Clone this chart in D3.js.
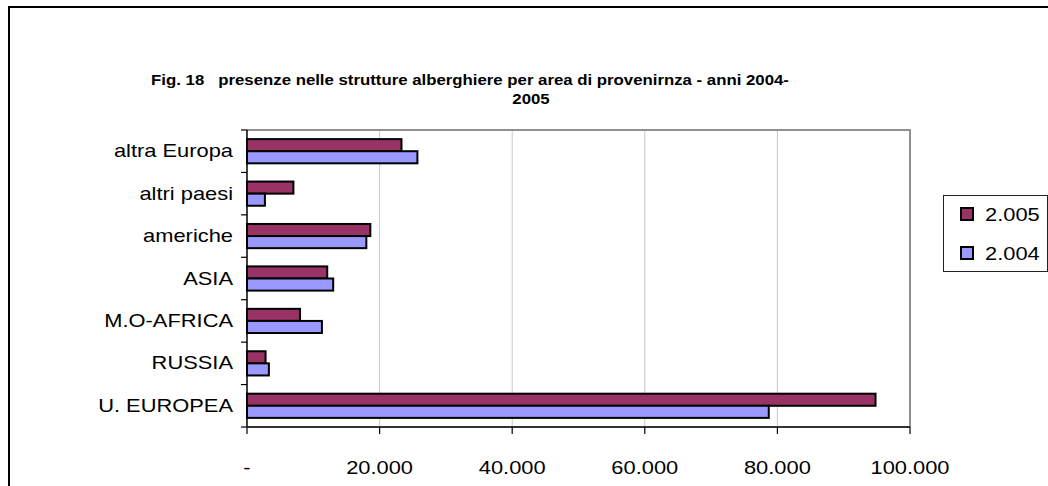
<!DOCTYPE html>
<html>
<head>
<meta charset="utf-8">
<script src="https://cdn.jsdelivr.net/npm/d3@7"></script>
<style>
  body { margin: 0; background: #fff; }
  text { font-family: Arial, "Liberation Sans", sans-serif; fill: #000; white-space: pre; }
</style>
</head>
<body>
<div id="vis-holder"></div>
<script>
// data
const categories = ["altra Europa", "altri paesi", "americhe", "ASIA", "M.O-AFRICA", "RUSSIA", "U. EUROPEA"];
const seriesNames = ["2.005", "2.004"];
const values2005 = [23300, 7000, 18600, 12100, 8000, 2800, 94800];
const values2004 = [25700, 2700, 18000, 13000, 11300, 3300, 78700];
const xTicks = [0, 20000, 40000, 60000, 80000, 100000];
const titleLines = ["Fig. 18   presenze nelle strutture alberghiere per area di provenirnza - anni 2004-", "2005"];

const colors = ["#993366", "#9999FF"];
const SX = 1.25; // text in the picture is stretched horizontally

const width = 1048, height = 486;
const plot = { left: 247, right: 910, top: 130, bottom: 427 };

const svg = d3.select("#vis-holder")
    .append("svg")
    .attr("width", width)
    .attr("height", height);

// outer chart frame (runs off the bottom/right of the picture)
svg.append("rect")
    .attr("x", 9).attr("y", 7)
    .attr("width", 1200).attr("height", 600)
    .attr("fill", "none")
    .attr("stroke", "#000")
    .attr("stroke-width", 2);

function stretchText(parent, x, y, str, anchor, size, weight, sx) {
    return parent.append("g")
        .attr("transform", `translate(${x},${y}) scale(${sx || SX},1)`)
        .append("text")
        .attr("text-anchor", anchor)
        .style("font-size", size + "px")
        .style("font-weight", weight || "normal")
        .text(str);
}

const locale = d3.formatLocale({ decimal: ",", thousands: ".", grouping: [3], currency: ["€", ""] });
const fmt = locale.format(",d");

const x = d3.scaleLinear().domain([0, 100000]).range([plot.left, plot.right]);
const y = d3.scaleBand().domain(categories).range([plot.top, plot.bottom])
    .paddingInner(0.43).paddingOuter(0.215);
const ySub = d3.scaleBand().domain(seriesNames).range([0, y.bandwidth()]);

// grid lines
svg.append("g")
    .selectAll("line")
    .data(xTicks.filter(d => d > 0 && d < 100000))
    .enter().append("line")
    .attr("x1", d => x(d)).attr("x2", d => x(d))
    .attr("y1", plot.top).attr("y2", plot.bottom)
    .attr("stroke", "#c8c8c8")
    .attr("stroke-width", 1);

// plot border top + right
svg.append("path")
    .attr("d", `M${plot.left},${plot.top}H${plot.right}V${plot.bottom}`)
    .attr("fill", "none")
    .attr("stroke", "#909090")
    .attr("stroke-width", 2);

// bars
const data = categories.map((c, i) => ({ cat: c, vals: [values2005[i], values2004[i]] }));
const groups = svg.append("g")
    .selectAll("g")
    .data(data)
    .enter().append("g")
    .attr("transform", d => `translate(0,${y(d.cat)})`);

groups.selectAll("rect")
    .data(d => d.vals.map((v, j) => ({ name: seriesNames[j], v: v, j: j })))
    .enter().append("rect")
    .attr("x", x(0))
    .attr("y", d => ySub(d.name))
    .attr("width", d => x(d.v) - x(0))
    .attr("height", ySub.bandwidth())
    .attr("fill", d => colors[d.j])
    .attr("stroke", "#000")
    .attr("stroke-width", 2);

// y axis
const yAxis = svg.append("g");
yAxis.append("line")
    .attr("x1", plot.left).attr("x2", plot.left)
    .attr("y1", plot.top).attr("y2", plot.bottom)
    .attr("stroke", "#000").attr("stroke-width", 1.5);
const yTickPos = categories.map(c => y(c) - y.step() * y.paddingOuter()).concat([plot.bottom]);
yAxis.selectAll(".tk")
    .data(yTickPos)
    .enter().append("line")
    .attr("x1", plot.left - 6).attr("x2", plot.left)
    .attr("y1", d => d).attr("y2", d => d)
    .attr("stroke", "#000").attr("stroke-width", 1.2);
categories.forEach(c => {
    stretchText(svg, 233, y(c) + y.bandwidth() / 2 + 6, c, "end", 17.5);
});

// x axis
const xAxis = svg.append("g");
xAxis.append("line")
    .attr("x1", plot.left).attr("x2", plot.right)
    .attr("y1", plot.bottom).attr("y2", plot.bottom)
    .attr("stroke", "#333").attr("stroke-width", 2);
xAxis.selectAll(".tk")
    .data(xTicks)
    .enter().append("line")
    .attr("x1", d => x(d)).attr("x2", d => x(d))
    .attr("y1", plot.bottom).attr("y2", plot.bottom + 7)
    .attr("stroke", "#000").attr("stroke-width", 1.2);
xTicks.forEach(t => {
    stretchText(svg, x(t), 474, t === 0 ? "-" : fmt(t), "middle", 17.5);
});

// title
stretchText(svg, 470, 85, titleLines[0], "middle", 15, "bold", 1.12);
stretchText(svg, 531, 104, titleLines[1], "middle", 15, "bold", 1.12);

// legend
const legend = svg.append("g");
legend.append("rect")
    .attr("x", 943.5).attr("y", 195.5)
    .attr("width", 104).attr("height", 76)
    .attr("fill", "#fff")
    .attr("stroke", "#222").attr("stroke-width", 1);
seriesNames.forEach((s, i) => {
    const ly = 208 + i * 39;
    legend.append("rect")
        .attr("x", 961).attr("y", ly)
        .attr("width", 12).attr("height", 12)
        .attr("fill", colors[i])
        .attr("stroke", "#000").attr("stroke-width", 2);
    stretchText(legend, 985, ly + 13, s, "start", 17.5);
});
</script>
</body>
</html>
